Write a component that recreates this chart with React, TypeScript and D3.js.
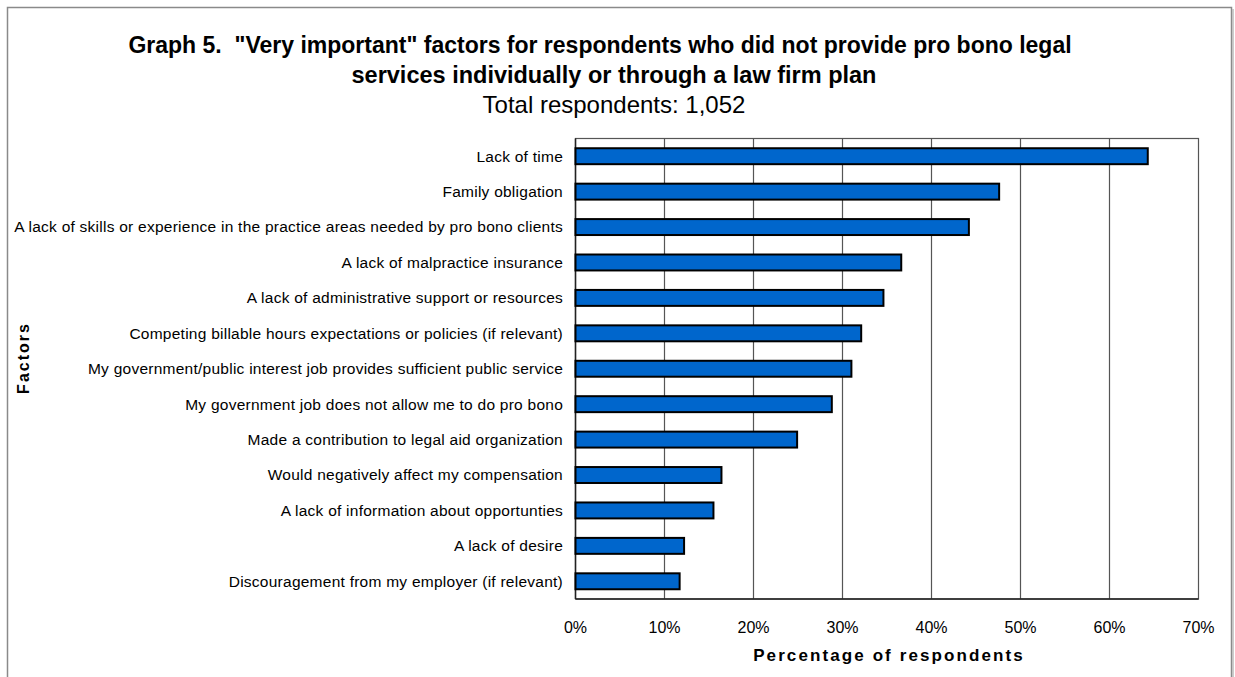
import React from "react";
import * as d3 from "d3";

const categories = [
  "Lack of time",
  "Family obligation",
  "A lack of skills or experience in the practice areas needed by pro bono clients",
  "A lack of malpractice insurance",
  "A lack of administrative support or resources",
  "Competing billable hours expectations or policies (if relevant)",
  "My government/public interest job provides sufficient public service",
  "My government job does not allow me to do pro bono",
  "Made a contribution to legal aid organization",
  "Would negatively affect my compensation",
  "A lack of information about opportunties",
  "A lack of desire",
  "Discouragement from my employer (if relevant)",
];
const values = [64.3, 47.6, 44.2, 36.6, 34.6, 32.1, 31.0, 28.8, 24.9, 16.4, 15.5, 12.2, 11.7];
const xTicks = [0, 10, 20, 30, 40, 50, 60, 70];
const titleLines = [
  "Graph 5.  \"Very important\" factors for respondents who did not provide pro bono legal",
  "services individually or through a law firm plan",
];
const subtitle = "Total respondents: 1,052";
const xTitle = "Percentage of respondents";
const yTitle = "Factors";

const W = 1235;
const H = 677;
const FONT = "'Liberation Sans', Arial, sans-serif";

export default function App() {
  const x = d3.scaleLinear().domain([0, 70]).range([575.5, 1198.5]);
  const y = d3
    .scaleBand<string>()
    .domain(categories)
    .range([138.5, 599])
    .paddingInner(0.55)
    .paddingOuter(0.275);
  const [x0, x1] = x.range();
  const [y0, y1] = y.range();

  return (
    <svg
      width={W}
      height={H}
      style={{ position: "absolute", left: 0, top: 0, background: "#fff" }}
      fontFamily={FONT}
    >
      <rect x={0} y={0} width={W} height={H} fill="#fff" />
      {/* outer frame */}
      <rect x={7.5} y={7.5} width={1224} height={700} fill="none" stroke="#8a8a8a" strokeWidth={1.5} />
      <line x1={1233} x2={1233} y1={9} y2={H} stroke="#bbb" strokeWidth={1.5} />

      {/* titles */}
      <text x={600} y={53} textAnchor="middle" fontSize={23} fontWeight="bold" fill="#000" style={{ whiteSpace: "pre" }}>
        {titleLines[0]}
      </text>
      <text x={614} y={83} textAnchor="middle" fontSize={23.5} fontWeight="bold" fill="#000">
        {titleLines[1]}
      </text>
      <text x={614} y={113} textAnchor="middle" fontSize={24} fill="#000">
        {subtitle}
      </text>

      {/* plot area */}
      <rect x={x0} y={y0} width={x1 - x0} height={y1 - y0} fill="#fff" stroke="#555" strokeWidth={1.2} />
      {xTicks.slice(1, -1).map((t) => (
        <line key={t} x1={x(t)} x2={x(t)} y1={y0} y2={y1} stroke="#555" strokeWidth={1.2} />
      ))}
      <line x1={x0} x2={x0} y1={y0} y2={y1} stroke="#222" strokeWidth={1.5} />
      <line x1={x0} x2={x1} y1={y1} y2={y1} stroke="#222" strokeWidth={1.5} />

      {/* bars */}
      {categories.map((c, i) => (
        <rect
          key={c}
          x={x(0)}
          y={y(c)!}
          width={x(values[i]) - x(0)}
          height={y.bandwidth()}
          fill="#0066CC"
          stroke="#000"
          strokeWidth={2}
        />
      ))}

      {/* category labels */}
      {categories.map((c) => (
        <text
          key={c}
          x={563}
          y={y(c)! + y.bandwidth() / 2}
          dy="0.35em"
          textAnchor="end"
          fontSize={15.5}
          letterSpacing={0.25}
          fill="#000"
        >
          {c}
        </text>
      ))}

      {/* x ticks */}
      {xTicks.map((t) => (
        <text key={t} x={x(t)} y={633} textAnchor="middle" fontSize={16} fill="#000">
          {t}%
        </text>
      ))}

      {/* axis titles */}
      <text x={889} y={661} textAnchor="middle" fontSize={17} fontWeight="bold" letterSpacing={2.1} fill="#000">
        {xTitle}
      </text>
      <text
        transform={`translate(29, 358) rotate(-90)`}
        textAnchor="middle"
        fontSize={16}
        fontWeight="bold"
        letterSpacing={2}
        fill="#000"
      >
        {yTitle}
      </text>
    </svg>
  );
}
